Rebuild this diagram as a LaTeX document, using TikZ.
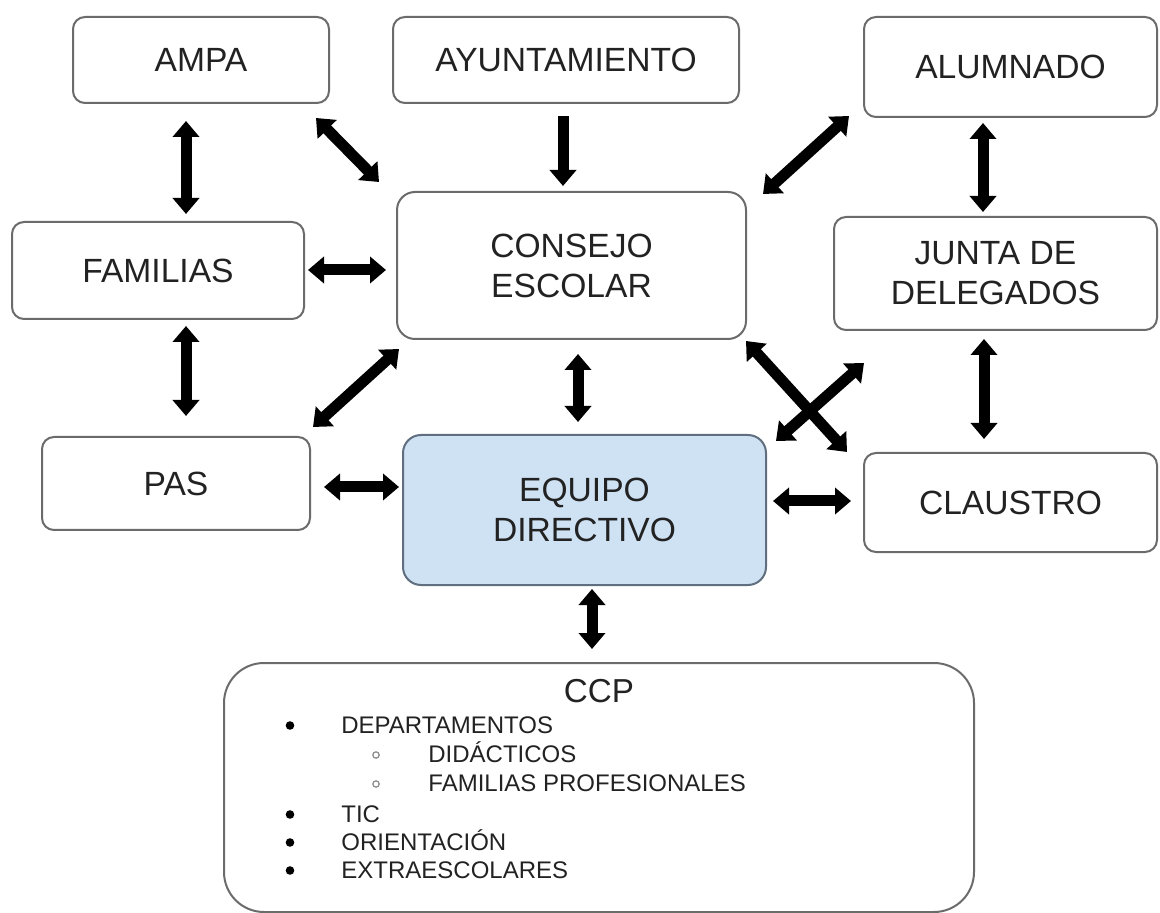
\documentclass[tikz,border=0pt]{standalone}
\usepackage{fontspec}
\setmainfont{Liberation Sans}
\usetikzlibrary{arrows.meta,calc}
\definecolor{boxline}{HTML}{6B6B6B}
\definecolor{eqfill}{HTML}{CFE2F3}
\definecolor{eqline}{HTML}{5F6F7F}
\definecolor{txt}{HTML}{222222}
\definecolor{subbul}{HTML}{8A8A8A}
\begin{document}
\begin{tikzpicture}[x=0.5pt,y=-0.5pt,
  orgbox/.style={draw=boxline, line width=1pt, rounded corners=6pt, align=center,
    text=txt, font=\fontsize{16.8}{20}\selectfont, inner sep=0pt},
  biarrow/.style={line width=5.5pt, {Triangle[width=13pt,length=8pt]}-{Triangle[width=13pt,length=8pt]}},
  onearrow/.style={line width=5.5pt, -{Triangle[width=13pt,length=8pt]}},
  listtext/.style={anchor=base west, font=\fontsize{12}{14}\selectfont, text=txt, inner sep=0pt}]
\useasboundingbox (0,0) rectangle (1160,913);
% boxes
\node[orgbox, minimum width=128pt, minimum height=43pt] (ampa) at (201,60) {AMPA};
\node[orgbox, minimum width=173pt, minimum height=43pt] (ayto) at (566,60) {AYUNTAMIENTO};
\node[orgbox, minimum width=146.5pt, minimum height=50pt] (alum) at (1010.5,67) {ALUMNADO};
\node[orgbox, minimum width=146pt, minimum height=48.5pt] (fam) at (158,270.5) {FAMILIAS};
\node[orgbox, minimum width=174.5pt, minimum height=73.5pt, rounded corners=9pt] (cons) at (571.5,265.5) {CONSEJO\\ESCOLAR};
\node[orgbox, minimum width=161.5pt, minimum height=56.5pt] (junta) at (995.5,273.5) {JUNTA DE\\DELEGADOS};
\node[orgbox, minimum width=134pt, minimum height=46.5pt] (pas) at (176,483.5) {PAS};
\node[orgbox, draw=eqline, fill=eqfill, minimum width=181.5pt, minimum height=75pt, rounded corners=9pt] (equipo) at (584.5,510) {EQUIPO\\DIRECTIVO};
\node[orgbox, minimum width=146.5pt, minimum height=49.5pt] (claus) at (1010.5,502.5) {CLAUSTRO};
\node[draw=boxline, line width=1pt, rounded corners=20pt, minimum width=375pt, minimum height=124.5pt, inner sep=0pt] (ccp) at (599,787.5) {};
% CCP content
\node[anchor=base, font=\fontsize{16.6}{20}\selectfont, text=txt, inner sep=0pt] (ccptitle) at (599,702) {CCP};
\node[listtext] (dep) at (341,733) {DEPARTAMENTOS};
\node[listtext] (did) at (428,762) {DIDÁCTICOS};
\node[listtext] (fp) at (428,791) {FAMILIAS PROFESIONALES};
\node[listtext] (tic) at (341,822) {TIC};
\node[listtext] (ori) at (341,850) {ORIENTACIÓN};
\node[listtext] (ext) at (341,878) {EXTRAESCOLARES};
\fill[black] (290,725.5) circle[radius=4.3];
\fill[black] (290,814.5) circle[radius=4.3];
\fill[black] (290,842.5) circle[radius=4.3];
\fill[black] (290,870.5) circle[radius=4.3];
\draw[subbul, line width=0.6pt] (376,755) circle[radius=3.2];
\draw[subbul, line width=0.6pt] (376,784) circle[radius=3.2];
% connectors
\draw[biarrow] ($(ampa.south)+(-15,17)$) -- ($(fam.north)+(28,-7)$);
\draw[biarrow] ($(ampa.south east)+(-14,14)$) -- ($(cons.north west)+(-17,-9)$);
\draw[onearrow] ($(ayto.south)+(-3,12)$) -- ($(cons.north)+(-8.5,-5)$);
\draw[biarrow] ($(alum.south west)+(-14,-2)$) -- ($(cons.north east)+(16,3)$);
\draw[biarrow] ($(alum.south)+(-27.5,5)$) -- ($(junta.north)+(-12.5,-4)$);
\draw[biarrow] ($(fam.east)+(3,-0.5)$) -- ($(cons.west)+(-10,4.5)$);
\draw[biarrow] ($(fam.south)+(28,6)$) -- ($(pas.north)+(10,-20)$);
\draw[biarrow] ($(cons.south west)+(3,9)$) -- ($(pas.north east)+(2,-9)$);
\draw[biarrow] ($(cons.south)+(6.5,14)$) -- ($(equipo.north)+(-6.5,-12)$);
\draw[biarrow] ($(cons.south east)+(-1,1)$) -- ($(claus.north west)+(-16,0)$);
\draw[biarrow] ($(junta.south west)+(31,32)$) -- ($(equipo.north east)+(9,7)$);
\draw[biarrow] ($(junta.south)+(-11.5,8)$) -- ($(claus.north)+(-26.5,-13)$);
\draw[biarrow] ($(pas.east)+(13,3.5)$) -- ($(equipo.west)+(-3,-23)$);
\draw[biarrow] ($(equipo.east)+(6,-9)$) -- ($(claus.west)+(-12,-1.5)$);
\draw[biarrow] ($(equipo.south)+(7.5,3)$) -- ($(ccp.north)+(-7,-13)$);
\end{tikzpicture}
\end{document}
